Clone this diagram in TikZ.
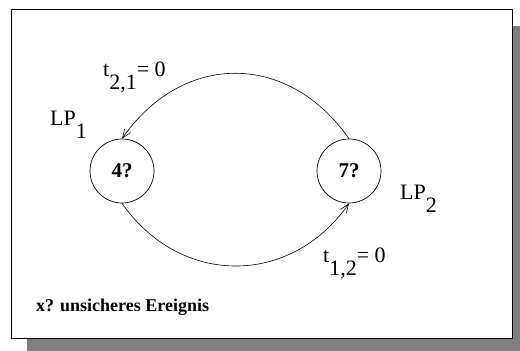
\documentclass[tikz,border=0pt]{standalone}
\usepackage{fontspec}
\setmainfont{Liberation Serif}
\usepackage{tikz}
\usetikzlibrary{arrows.meta,positioning,calc}

\newcommand{\tief}[1]{\raisebox{-13pt}{#1}}

\begin{document}
\begin{tikzpicture}[
      x=1pt, y=-1pt,
      every node/.style={font=\fontsize{22}{24}\selectfont, inner sep=0pt},
      lpknoten/.style={draw, circle, line width=0.7pt, minimum size=64pt,
                       font=\fontsize{21}{24}\selectfont\bfseries},
      beschr/.style={anchor=base west},
      kante/.style={line width=0.6pt, -{Straight Barb[length=9pt,width=7pt]}}
    ]
  \useasboundingbox (0,0) rectangle (520,351);

  % --- Rahmen mit Schatten ---
  \fill[black!50] (27,26) rectangle (520,351);
  \draw[fill=white, line width=0.8pt] (11,9) rectangle (512,338);

  % --- Prozesse ---
  \node (lp1) [lpknoten] at (122,171) {4?};
  \node (lp2) [lpknoten] at (349,171) {7?};

  \node (lp1name) [beschr] at (50,125) {LP\tief{1}};
  \node (lp2name) [beschr] at (400,199) {LP\tief{2}};

  % --- Kanten ---
  \draw[kante] (lp2.north) to[out=125, in=55, looseness=1.2] (lp1.north);
  \draw[kante] (lp1.south) to[out=-55, in=-125, looseness=1.15] (lp2.south);

  \node (t21) [beschr] at (103,76)  {t\tief{2,1}= 0};
  \node (t12) [beschr] at (323,262) {t\tief{1,2}= 0};

  % Legende
  \node (legende) [beschr, font=\fontsize{18}{20}\selectfont\bfseries]
    at (36,311) {x? unsicheres Ereignis};
\end{tikzpicture}
\end{document}
